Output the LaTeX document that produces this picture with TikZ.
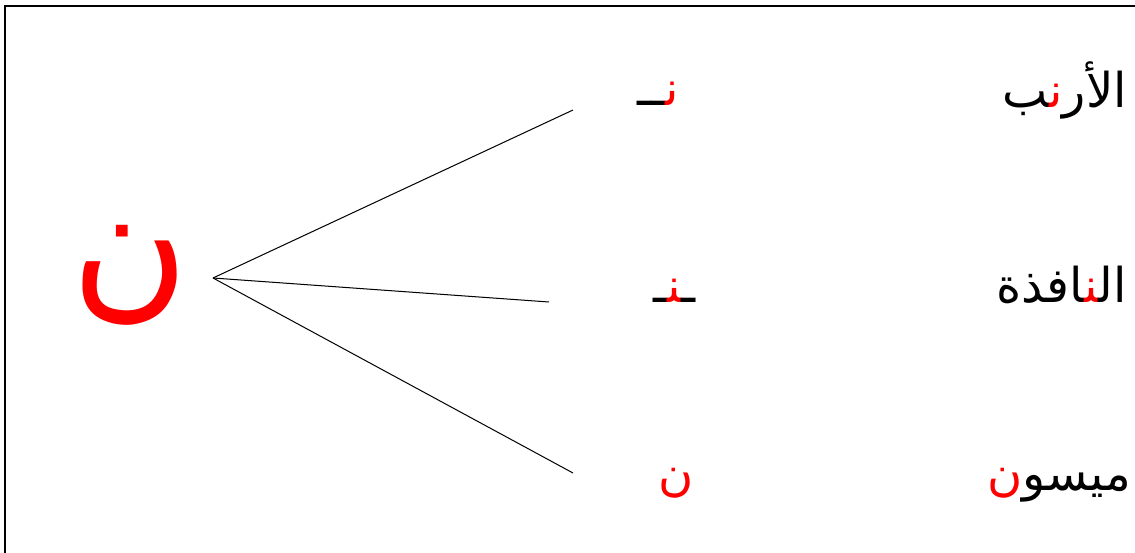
\documentclass[tikz,border=0pt]{standalone}
\usepackage{fontspec}
\usepackage{xcolor}
\newfontfamily\arabicfont[Script=Arabic]{DejaVu Sans}
\def\zwj{^^^^200d}
\tikzset{
  word/.style={inner sep=0pt, anchor=base east, font=\arabicfont\fontsize{48}{56}\selectfont},
  conn/.style={line width=1pt, black},
}
\begin{document}
\begin{tikzpicture}[x=1pt,y=-1pt]
\useasboundingbox (0,0) rectangle (1135,553);
\draw[line width=1.5pt] (5,553) -- (5,6) -- (1135,6);
% big letter
\node[inner sep=0pt, anchor=base, text=red, font=\arabicfont\fontsize{160}{180}\selectfont] (nun) at (130,300) {ن};
% words (pieces written in visual left-to-right order)
\node[word] (w1) at (1127,108) {\zwj ب\textcolor{red}{ن\zwj}الأر};
\node[word] (w2) at (1127,303) {\zwj افذة\textcolor{red}{\zwj ن\zwj}ال\zwj};
\node[word] (w3) at (1131,490) {\textcolor{red}{ن}ميسو};
% middle column
\node[word] (m1) at (679,106) {\zwj ــ\textcolor{red}{ن\zwj}};
\node[word] (m2) at (696,303) {\zwj ـ\textcolor{red}{\zwj ن\zwj}ـ\zwj};
\node[word] (m3) at (694,490) {\textcolor{red}{ن}};
% connectors
\coordinate (apex) at (213,278);
\coordinate (e1) at (573,110);
\coordinate (e2) at (549,302);
\coordinate (e3) at (573,473);
\draw[conn] (apex) -- (e1);
\draw[conn] (apex) -- (e2);
\draw[conn] (apex) -- (e3);
\end{tikzpicture}
\end{document}
